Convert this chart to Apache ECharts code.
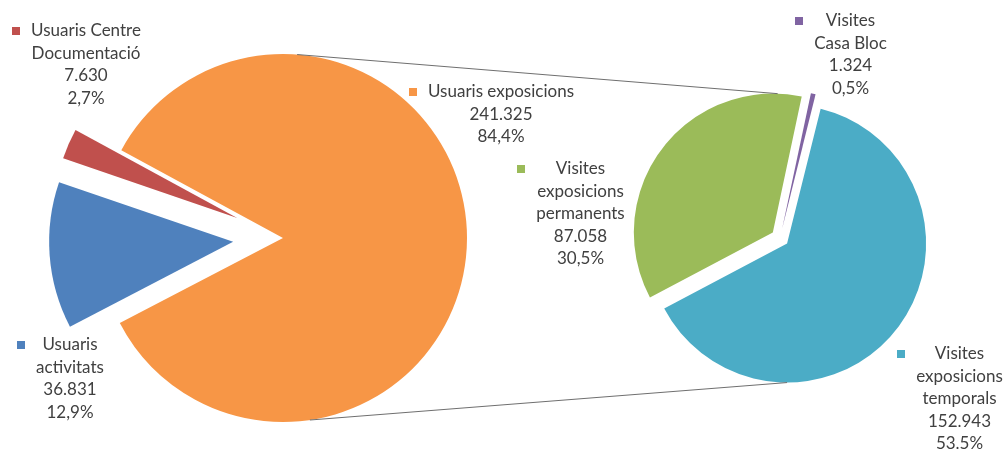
<!DOCTYPE html>
<html>
<head>
<meta charset="utf-8">
<script src="https://cdn.jsdelivr.net/npm/echarts@6/dist/echarts.min.js"></script>
<style>html,body{margin:0;padding:0;background:#fff;}#c{width:1007px;height:449px;}</style>
</head>
<body>
<div id="c"></div>
<script>
// ---- Data ----
const categories1 = ['Usuaris exposicions', 'Usuaris activitats', 'Usuaris Centre Documentació'];
const values1 = [241325, 36831, 7630];
const percents1 = ['84,4%', '12,9%', '2,7%'];
const labelNames1 = [['Usuaris exposicions'], ['Usuaris', 'activitats'], ['Usuaris Centre', 'Documentació']];

const categories2 = ['Visites Casa Bloc', 'Visites exposicions temporals', 'Visites exposicions permanents'];
const values2 = [1324, 152943, 87058];
const percents2 = ['0,5%', '53.5%', '30,5%'];
const labelNames2 = [['Visites', 'Casa Bloc'], ['Visites', 'exposicions', 'temporals'], ['Visites', 'exposicions', 'permanents']];

// ---- Styles / layout ----
const colors1 = ['#F79646', '#4F81BD', '#C0504D'];
const colors2 = ['#8064A2', '#4BACC6', '#9BBB59'];
const FONT_FAMILY = 'Lato';
const FONT_SIZE = 17;
const LH = 22.5;
const TEXT_COLOR = '#404040';
const P1 = { cx: 283, cy: 238, r: 184, start: 151.5, off: 50 };
const P2 = { cx: 780, cy: 238, r: 139, start: 78, off: 9 };
const anchors1 = [[409, 92], [17, 345], [12, 31]];
const anchors2 = [[795, 21], [897, 354], [517, 169]];

const mctx = document.createElement('canvas').getContext('2d');
mctx.font = FONT_SIZE + 'px ' + FONT_FAMILY;
function fmt(v) { return String(v).replace(/\B(?=(\d{3})+(?!\d))/g, '.'); }

function makeLabelGraphic(nameLines, value, pct, color, anchor) {
  const lines = nameLines.concat([fmt(value), pct]);
  const W = Math.ceil(Math.max.apply(null, lines.map(s => mctx.measureText(s).width))) + 2;
  const txt = lines.map((s, i) => (i === 0 ? '{k|}{g|}' : '{b|}') + '{t|' + s + '}').join('\n');
  return {
    type: 'text',
    x: anchor[0],
    y: anchor[1] - LH / 2,
    z: 20,
    silent: true,
    style: {
      text: txt,
      align: 'left',
      verticalAlign: 'top',
      rich: {
        k: { width: 8, height: 8, backgroundColor: color, verticalAlign: 'middle' },
        g: { width: 10, height: 8 },
        b: { width: 18, height: 8 },
        t: { width: W, align: 'center', fontFamily: FONT_FAMILY, fontSize: FONT_SIZE, fill: TEXT_COLOR, color: TEXT_COLOR, lineHeight: LH }
      }
    }
  };
}

function buildData(cats, vals, cols, selectAll, selectIdx) {
  return cats.map((c, i) => ({
    name: c,
    value: vals[i],
    selected: selectAll || selectIdx.indexOf(i) >= 0,
    itemStyle: { color: cols[i] }
  }));
}

function pt(cx, cy, r, deg) {
  const a = deg * Math.PI / 180;
  return [cx + r * Math.cos(a), cy - r * Math.sin(a)];
}
function midAngle(vals, start, idx) {
  const tot = vals.reduce((a, b) => a + b, 0);
  let acc = 0;
  for (let i = 0; i < idx; i++) acc += vals[i];
  return start - (acc + vals[idx] / 2) / tot * 360;
}
// connector endpoints derived from pie geometry
const gMid = midAngle(values2, P2.start, 2);
const tMid = midAngle(values2, P2.start, 1);
const gC = pt(P2.cx, P2.cy, P2.off, gMid);
const tC = pt(P2.cx, P2.cy, P2.off, tMid);
const topA = pt(P1.cx, P1.cy, P1.r, 85.6);
const topB = pt(gC[0], gC[1], P2.r, 88);
const botA = pt(P1.cx, P1.cy, P1.r, -81.6);
const botB = pt(tC[0], tC[1], P2.r, -90);

function pieSeries(P, data) {
  return {
    type: 'pie',
    center: [P.cx, P.cy],
    radius: P.r,
    startAngle: P.start,
    clockwise: true,
    selectedMode: 'multiple',
    selectedOffset: P.off,
    animation: false,
    silent: true,
    itemStyle: { borderWidth: 0 },
    emphasis: { disabled: true },
    select: { itemStyle: { borderWidth: 0 } },
    label: { show: false },
    labelLine: { show: false },
    data: data
  };
}

const labelGraphics = []
  .concat(categories1.map((c, i) => makeLabelGraphic(labelNames1[i], values1[i], percents1[i], colors1[i], anchors1[i])))
  .concat(categories2.map((c, i) => makeLabelGraphic(labelNames2[i], values2[i], percents2[i], colors2[i], anchors2[i])));

const chart = echarts.init(document.getElementById('c'), null, { renderer: 'canvas' });
chart.setOption({
  backgroundColor: '#fff',
  animation: false,
  series: [
    pieSeries(P1, buildData(categories1, values1, colors1, false, [1, 2])),
    pieSeries(P2, buildData(categories2, values2, colors2, true, []))
  ],
  graphic: [
    { type: 'line', z: 10, silent: true, shape: { x1: topA[0], y1: topA[1], x2: topB[0], y2: topB[1] }, style: { stroke: '#6f6f6f', lineWidth: 1 } },
    { type: 'line', z: 10, silent: true, shape: { x1: botA[0], y1: botA[1], x2: botB[0], y2: botB[1] }, style: { stroke: '#6f6f6f', lineWidth: 1 } }
  ].concat(labelGraphics)
});
</script>
</body>
</html>
